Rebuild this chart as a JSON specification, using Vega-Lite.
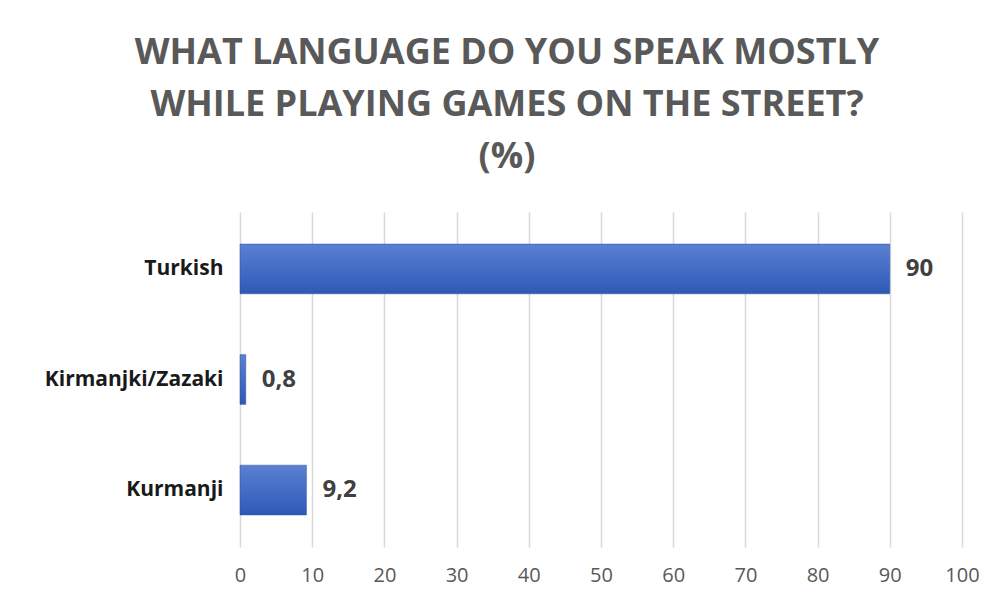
{
  "$schema": "https://vega.github.io/schema/vega-lite/v6.json",
  "width": 722,
  "height": 335,
  "autosize": {"type": "none"},
  "padding": {"left": 240, "top": 212, "right": 39, "bottom": 58},
  "background": "white",
  "config": {
    "locale": {"number": {"decimal": ",", "thousands": ".", "grouping": [3], "currency": ["", " €"]}},
    "view": {"stroke": null}
  },
  "title": {
    "text": ["WHAT LANGUAGE DO YOU SPEAK MOSTLY", "WHILE PLAYING GAMES ON THE STREET?", "(%)"],
    "font": "Open Sans",
    "fontWeight": "bold",
    "fontSize": 36,
    "color": "#595959",
    "lineHeight": 52,
    "anchor": "middle",
    "dx": -94,
    "offset": 36
  },
  "data": {
    "values": [
      {"language": "Turkish", "percent": 90},
      {"language": "Kirmanjki/Zazaki", "percent": 0.8},
      {"language": "Kurmanji", "percent": 9.2}
    ]
  },
  "encoding": {
    "y": {
      "field": "language",
      "type": "nominal",
      "sort": null,
      "scale": {"paddingInner": 0.55, "paddingOuter": 0.29},
      "axis": {
        "title": null,
        "domain": false,
        "ticks": false,
        "labelFont": "Open Sans",
        "labelFontWeight": "bold",
        "labelFontSize": 21,
        "labelColor": "#1a1a1a",
        "labelPadding": 17
      }
    },
    "x": {
      "field": "percent",
      "type": "quantitative",
      "scale": {"domain": [0, 100]},
      "axis": {
        "title": null,
        "values": [0, 10, 20, 30, 40, 50, 60, 70, 80, 90, 100],
        "domain": false,
        "ticks": false,
        "grid": true,
        "gridColor": "#d9d9d9",
        "gridWidth": 1.5,
        "labelFlush": false,
        "labelFont": "Open Sans",
        "labelFontSize": 20,
        "labelColor": "#595959",
        "labelPadding": 18
      }
    }
  },
  "layer": [
    {
      "mark": {
        "type": "bar",
        "color": {
          "gradient": "linear",
          "x1": 0, "y1": 0, "x2": 0, "y2": 1,
          "stops": [
            {"offset": 0, "color": "#5b80d3"},
            {"offset": 1, "color": "#2d59b6"}
          ]
        },
        "stroke": "#2a4f9e",
        "strokeWidth": 0.5
      }
    },
    {
      "mark": {
        "type": "text",
        "align": "left",
        "baseline": "middle",
        "dx": 16,
        "font": "Open Sans",
        "fontWeight": "bold",
        "fontSize": 24,
        "color": "#404040"
      },
      "encoding": {
        "text": {"field": "percent", "type": "quantitative", "format": "~g"}
      }
    }
  ]
}
